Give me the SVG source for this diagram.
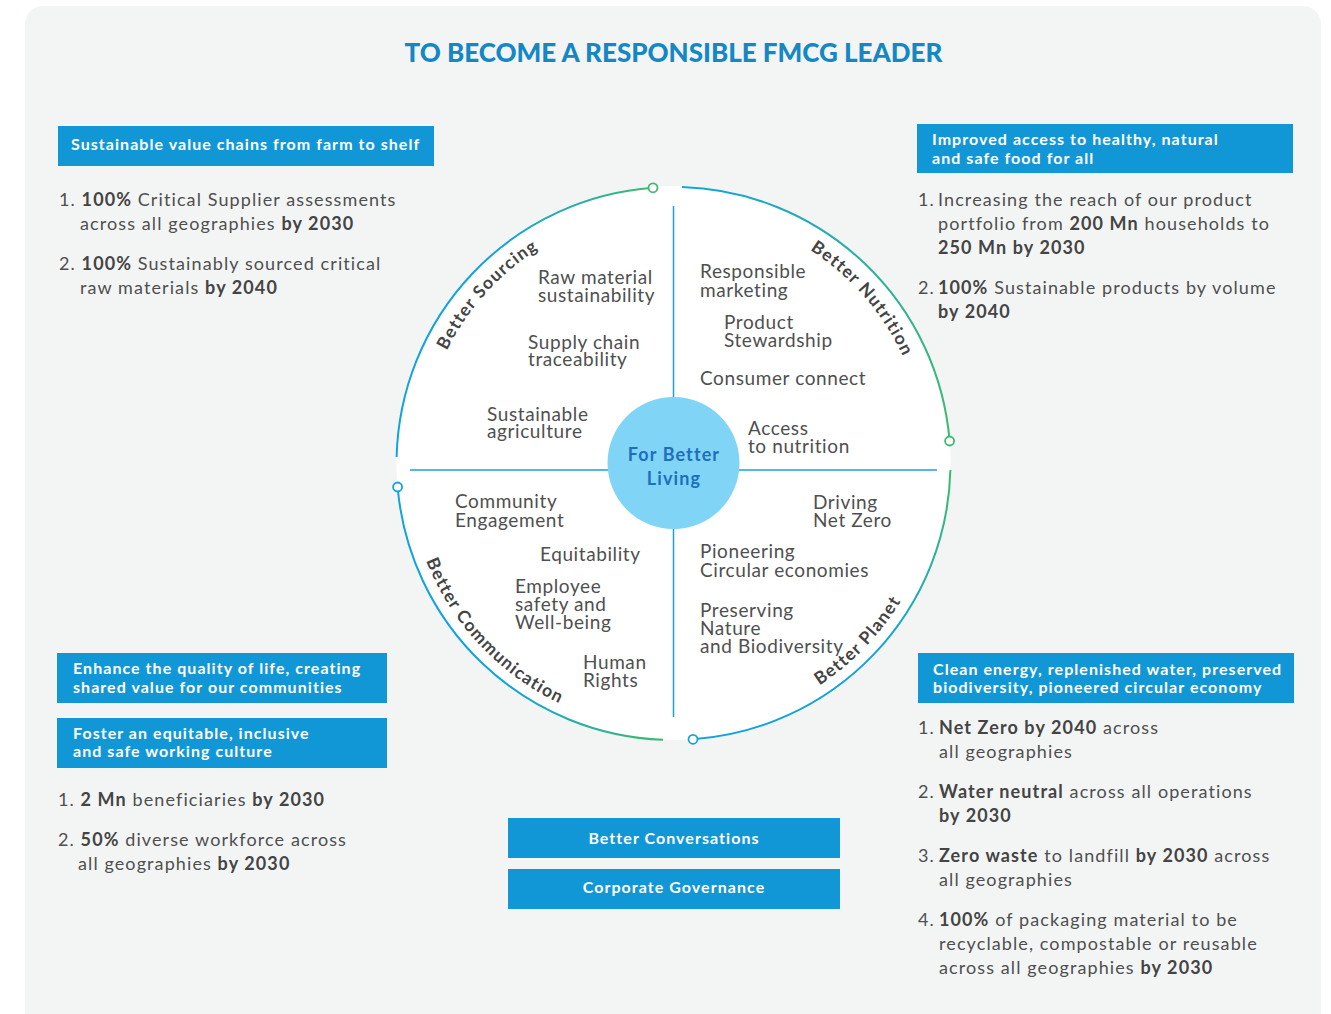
<svg xmlns="http://www.w3.org/2000/svg" xmlns:xlink="http://www.w3.org/1999/xlink" width="1331" height="1014" viewBox="0 0 1331 1014">
<style>
text{font-family:Lato,"Liberation Sans",sans-serif;}
.title{font-size:26px;font-weight:900;fill:#1587c4;}
.hdr{font-size:16px;font-weight:700;fill:#ffffff;letter-spacing:1.05px;}
.body{font-size:18px;fill:#4f4f4f;letter-spacing:1.1px;}
.b{font-weight:700;fill:#444;}
.lbl{font-size:19px;fill:#4f4f4f;letter-spacing:0.6px;}
.arc{font-size:17.5px;font-weight:700;fill:#444;letter-spacing:1.2px;}
.box{fill:#1297d6;}
.div{stroke:#1ba0dc;stroke-width:1.5;fill:none;}
.ring{fill:none;stroke-width:2;}
.dot{fill:#fff;stroke-width:1.8;}
.ctr{font-size:18px;font-weight:700;fill:#1e6fbd;letter-spacing:1.1px;}
</style>
<defs>
<linearGradient id="gTL" gradientUnits="userSpaceOnUse" x1="397" y1="457" x2="653" y2="187"><stop offset="0" stop-color="#12a3dd"/><stop offset="0.62" stop-color="#12a3dd"/><stop offset="1" stop-color="#3dba6f"/></linearGradient>
<linearGradient id="gTR" gradientUnits="userSpaceOnUse" x1="682" y1="187" x2="949" y2="441"><stop offset="0" stop-color="#12a3dd"/><stop offset="0.4" stop-color="#26aea8"/><stop offset="1" stop-color="#3dba6f"/></linearGradient>
<linearGradient id="gBR" gradientUnits="userSpaceOnUse" x1="950" y1="470" x2="693" y2="739"><stop offset="0" stop-color="#3dba6f"/><stop offset="0.5" stop-color="#12a3dd"/><stop offset="1" stop-color="#12a3dd"/></linearGradient>
<linearGradient id="gBL" gradientUnits="userSpaceOnUse" x1="398" y1="487" x2="663" y2="740"><stop offset="0" stop-color="#12a3dd"/><stop offset="0.6" stop-color="#12a3dd"/><stop offset="1" stop-color="#3dba6f"/></linearGradient>
<path id="pTop" d="M420.5,463 A253,253 0 0 1 926.5,463 A253,253 0 0 1 420.5,463"/>
<path id="pBot" d="M407.5,463 A266,266 0 0 0 939.5,463 A266,266 0 0 0 407.5,463"/>
</defs>

<rect x="25" y="6" width="1296" height="1030" rx="18" fill="#f3f5f5"/>

<text class="title" x="673.5" y="62" text-anchor="middle">TO BECOME A RESPONSIBLE FMCG LEADER</text>

<g id="wheel">
<circle cx="673.5" cy="463" r="277" fill="#ffffff"/>
</g>

<g id="connectors">
<line class="div" x1="673.5" y1="206" x2="673.5" y2="717"/>
<line class="div" x1="410" y1="470" x2="937" y2="470"/>
<path class="ring" stroke="url(#gTL)" d="M396.6,457 A277,277 0 0 1 653,187.8"/>
<path class="ring" stroke="url(#gTR)" d="M682,187.1 A277,277 0 0 1 949.6,441"/>
<path class="ring" stroke="url(#gBR)" d="M950.4,470 A277,277 0 0 1 693,739.3"/>
<path class="ring" stroke="url(#gBL)" d="M663,739.8 A277,277 0 0 1 397.6,487"/>
<circle class="dot" cx="653" cy="187.8" r="4.5" stroke="#3dba6f"/>
<circle class="dot" cx="949.6" cy="441" r="4.5" stroke="#3dba6f"/>
<circle class="dot" cx="693" cy="739.3" r="4.5" stroke="#12a3dd"/>
<circle class="dot" cx="397.6" cy="487" r="4.5" stroke="#12a3dd"/>
</g>

<g id="center">
<circle cx="673.5" cy="463" r="66" fill="#80d4f6"/>
<text class="ctr" x="674" y="461" text-anchor="middle">For Better</text>
<text class="ctr" x="674" y="485" text-anchor="middle">Living</text>
</g>

<g id="label-sourcing">
<text class="arc"><textPath href="#pTop" xlink:href="#pTop" startOffset="11.7%" text-anchor="middle">Better Sourcing</textPath></text>
</g>
<g id="label-nutrition">
<text class="arc"><textPath href="#pTop" xlink:href="#pTop" startOffset="38.6%" text-anchor="middle">Better Nutrition</textPath></text>
</g>
<g id="label-communication">
<text class="arc"><textPath href="#pBot" xlink:href="#pBot" startOffset="12.0%" text-anchor="middle">Better Communication</textPath></text>
</g>
<g id="label-planet">
<text class="arc"><textPath href="#pBot" xlink:href="#pBot" startOffset="37.8%" text-anchor="middle">Better Planet</textPath></text>
</g>

<g id="q-sourcing">
<text class="lbl" x="538" y="284">Raw material</text>
<text class="lbl" x="538" y="302">sustainability</text>
<text class="lbl" x="528" y="349">Supply chain</text>
<text class="lbl" x="528" y="366">traceability</text>
<text class="lbl" x="487" y="421">Sustainable</text>
<text class="lbl" x="487" y="438">agriculture</text>
</g>
<g id="q-nutrition">
<text class="lbl" x="700" y="278">Responsible</text>
<text class="lbl" x="700" y="297">marketing</text>
<text class="lbl" x="724" y="329">Product</text>
<text class="lbl" x="724" y="347">Stewardship</text>
<text class="lbl" x="700" y="385">Consumer connect</text>
<text class="lbl" x="748" y="435">Access</text>
<text class="lbl" x="748" y="453">to nutrition</text>
</g>
<g id="q-communication">
<text class="lbl" x="455" y="508">Community</text>
<text class="lbl" x="455" y="527">Engagement</text>
<text class="lbl" x="540" y="561">Equitability</text>
<text class="lbl" x="515" y="593">Employee</text>
<text class="lbl" x="515" y="611">safety and</text>
<text class="lbl" x="515" y="629">Well-being</text>
<text class="lbl" x="583" y="669">Human</text>
<text class="lbl" x="583" y="687">Rights</text>
</g>
<g id="q-planet">
<text class="lbl" x="813" y="509">Driving</text>
<text class="lbl" x="813" y="527">Net Zero</text>
<text class="lbl" x="700" y="558">Pioneering</text>
<text class="lbl" x="700" y="577">Circular economies</text>
<text class="lbl" x="700" y="617">Preserving</text>
<text class="lbl" x="700" y="635">Nature</text>
<text class="lbl" x="700" y="653">and Biodiversity</text>
</g>

<g id="goal-sourcing">
<rect class="box" x="58" y="126" width="376" height="40"/>
<text class="hdr" x="71" y="150">Sustainable value chains from farm to shelf</text>
<text class="body" x="59" y="206">1. <tspan class="b">100%</tspan> Critical Supplier assessments</text>
<text class="body" x="80" y="230">across all geographies <tspan class="b">by 2030</tspan></text>
<text class="body" x="59" y="270">2. <tspan class="b">100%</tspan> Sustainably sourced critical</text>
<text class="body" x="80" y="294">raw materials <tspan class="b">by 2040</tspan></text>
</g>

<g id="goal-nutrition">
<rect class="box" x="917" y="124" width="376" height="49"/>
<text class="hdr" x="932" y="145">Improved access to healthy, natural</text>
<text class="hdr" x="932" y="164">and safe food for all</text>
<text class="body" x="918" y="206">1. <tspan x="938">Increasing the reach of our product</tspan></text>
<text class="body" x="938" y="230">portfolio from <tspan class="b">200 Mn</tspan> households to</text>
<text class="body b" x="938" y="254">250 Mn by 2030</text>
<text class="body" x="918" y="294">2. <tspan x="938" class="b">100%</tspan> Sustainable products by volume</text>
<text class="body b" x="938" y="318">by 2040</text>
</g>

<g id="goal-communication">
<rect class="box" x="57" y="653" width="330" height="50"/>
<text class="hdr" x="73" y="674">Enhance the quality of life, creating</text>
<text class="hdr" x="73" y="693">shared value for our communities</text>
<rect class="box" x="57" y="718" width="330" height="50"/>
<text class="hdr" x="73" y="739">Foster an equitable, inclusive</text>
<text class="hdr" x="73" y="757">and safe working culture</text>
<text class="body" x="58" y="806">1. <tspan class="b">2 Mn</tspan> beneficiaries <tspan class="b">by 2030</tspan></text>
<text class="body" x="58" y="846">2. <tspan class="b">50%</tspan> diverse workforce across</text>
<text class="body" x="78" y="870">all geographies <tspan class="b">by 2030</tspan></text>
</g>

<g id="goal-planet">
<rect class="box" x="918" y="653" width="376" height="50"/>
<text class="hdr" x="933" y="675">Clean energy, replenished water, preserved</text>
<text class="hdr" x="933" y="693">biodiversity, pioneered circular economy</text>
<text class="body" x="918" y="734">1. <tspan x="939" class="b">Net Zero by 2040</tspan> across</text>
<text class="body" x="939" y="758">all geographies</text>
<text class="body" x="918" y="798">2. <tspan x="939" class="b">Water neutral</tspan> across all operations</text>
<text class="body b" x="939" y="822">by 2030</text>
<text class="body" x="918" y="862">3. <tspan x="939" class="b">Zero waste</tspan> to landfill <tspan class="b">by 2030</tspan> across</text>
<text class="body" x="939" y="886">all geographies</text>
<text class="body" x="918" y="926">4. <tspan x="939" class="b">100%</tspan> of packaging material to be</text>
<text class="body" x="939" y="950">recyclable, compostable or reusable</text>
<text class="body" x="939" y="974">across all geographies <tspan class="b">by 2030</tspan></text>
</g>

<g id="bottom-pillars">
<rect class="box" x="508" y="818" width="332" height="40"/>
<text class="hdr" x="674" y="844" text-anchor="middle">Better Conversations</text>
<rect class="box" x="508" y="869" width="332" height="40"/>
<text class="hdr" x="674" y="893" text-anchor="middle">Corporate Governance</text>
</g>
</svg>
